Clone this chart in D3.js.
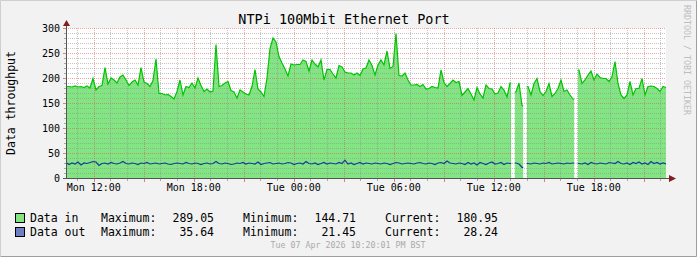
<!DOCTYPE html>
<html>
<head>
<meta charset="utf-8">
<script src="https://cdn.jsdelivr.net/npm/d3@7"></script>
<style>
  body { margin: 0; background: #f2f2f2; }
  svg text { font-family: "DejaVu Sans Mono", monospace; }
</style>
</head>
<body>
<script>
// one reading every 10.8 minutes, Mon 10:20 -> Tue 22:20 (null = no data)
var dataIn = [
  183,183,182,184,182,183,181,184,180,199,
  176,183,185,221,188,200,196,190,202,206,
  196,185,192,196,186,221,192,189,183,195,
  238,169,169,166,167,163,158,173,196,166,
  183,181,190,180,200,185,173,178,172,174,
  267,183,185,190,193,175,172,160,176,172,
  168,166,183,217,178,172,163,200,259,280,
  272,243,230,218,204,228,226,227,227,236,
  233,214,236,228,222,236,196,217,217,208,
  200,225,222,212,210,210,206,210,205,218,
  220,236,225,206,226,236,226,254,219,223,
  289.05,205,204,210,196,186,186,187,183,187,
  178,179,183,181,180,216,191,183,189,196,
  191,193,165,172,179,168,156,181,168,160,
  186,179,178,168,170,183,176,162,190,null,
  172,190,144.71,null,183,166,189,199,173,165,
  173,189,163,169,179,196,173,176,166,158,
  null,216,189,196,206,214,196,208,201,199,
  199,193,203,233,189,166,159,166,193,166,
  179,179,199,166,183,184,183,179,173,183,
  180.95
];

var dataOut = [
  31,27,30,28,32,26,30,29,31,33,
  32,25,29,30,28,31,29,28,30,33,
  29,28,30,29,27,30,29,31,28,29,
  30,28,29,30,28,27,29,30,29,28,
  31,29,28,30,29,27,29,30,28,29,
  33,29,28,30,29,27,28,30,29,31,
  28,30,29,28,32,27,29,30,31,28,
  29,30,28,29,31,30,27,29,30,28,
  33,29,28,30,27,29,31,28,30,29,
  28,31,29,35.64,28,30,27,29,31,28,
  30,29,28,30,29,28,30,29,27,29,
  31,30,28,29,30,29,28,30,31,29,
  28,30,29,27,30,31,29,34,30,29,
  28,30,29,27,31,28,30,26,31,29,
  27,30,32,28,29,31,27,30,29,null,
  30,28,21.45,null,29,28,30,29,28,30,
  29,31,28,29,30,29,28,30,29,30,
  null,29,28,30,27,31,29,28,30,29,
  28,31,30,29,33,29,28,30,27,31,
  29,32,28,30,27,33,29,31,28,30,
  28.24
];

var seriesNames = ["Data in", "Data out"];
var maxima = ["289.05", "35.64"];
var minima = ["144.71", "21.45"];
var currents = ["180.95", "28.24"];
var yTicks = [0, 50, 100, 150, 200, 250, 300];

var startTime = new Date(2026, 3, 6, 10, 20);
var endTime = new Date(2026, 3, 7, 22, 20);
var stepMs = (endTime - startTime) / (dataIn.length - 1);

var svg = d3.select("body").append("svg")
    .attr("width", 697)
    .attr("height", 257);

svg.append("rect")
    .attr("width", 697).attr("height", 257)
    .attr("fill", "#f2f2f2");
// frame shades
svg.append("path").attr("d", "M0.5,256 V0.5 H696").attr("stroke", "#cfcfcf").attr("fill", "none");
svg.append("path").attr("d", "M0.5,256.5 H696.5 V0.5").attr("stroke", "#9e9e9e").attr("fill", "none");

var x = d3.scaleTime().domain([startTime, endTime]).range([66, 666]);
var y = d3.scaleLinear().domain([0, 300]).range([178, 28]);

svg.append("rect")
    .attr("x", x.range()[0]).attr("y", y(300))
    .attr("width", x.range()[1] - x.range()[0])
    .attr("height", y(0) - y(300))
    .attr("fill", "#ffffff");

// build points; each reading holds its value until close to an unknown slot,
// so the missing slots leave narrow white gaps like rrdtool does
var points = [];
dataIn.forEach(function (v, i) {
    var t = +startTime + i * stepMs;
    if (v == null) {
        points.push({ t: new Date(t - stepMs * 0.6), vin: dataIn[i - 1], vout: dataOut[i - 1] });
        points.push({ t: new Date(t), vin: null, vout: null });
        points.push({ t: new Date(t + stepMs * 0.6), vin: dataIn[i + 1], vout: dataOut[i + 1] });
    } else {
        points.push({ t: new Date(t), vin: v, vout: dataOut[i] });
    }
});

var area = d3.area()
    .defined(function (d) { return d.vin != null; })
    .x(function (d) { return x(d.t); })
    .y0(y(0))
    .y1(function (d) { return y(d.vin); });

var lineIn = d3.line()
    .defined(function (d) { return d.vin != null; })
    .x(function (d) { return x(d.t); })
    .y(function (d) { return y(d.vin); });

var lineOut = d3.line()
    .defined(function (d) { return d.vout != null; })
    .x(function (d) { return x(d.t); })
    .y(function (d) { return y(d.vout); });

svg.append("path").datum(points).attr("d", area).attr("fill", "#82e482");

// grid
var hours = d3.timeHour.range(startTime, endTime);
var isMajor = function (h) { return h.getHours() % 3 == 0; };
var minorCol = "rgba(140,140,140,0.5)";
var majorCol = "rgba(222,80,80,0.5)";

var hLines = d3.range(10, 301, 10);
svg.selectAll("line.hgrid").data(hLines).enter().append("line")
    .attr("x1", 66).attr("x2", 666)
    .attr("y1", function (d) { return Math.round(y(d)) + 0.5; })
    .attr("y2", function (d) { return Math.round(y(d)) + 0.5; })
    .attr("stroke", function (d) { return d % 50 == 0 ? majorCol : minorCol; })
    .attr("stroke-dasharray", "1,1");

svg.selectAll("line.vgrid").data(hours).enter().append("line")
    .attr("x1", function (d) { return Math.round(x(d)) + 0.5; })
    .attr("x2", function (d) { return Math.round(x(d)) + 0.5; })
    .attr("y1", y(300)).attr("y2", y(0))
    .attr("stroke", function (d) { return isMajor(d) ? majorCol : minorCol; })
    .attr("stroke-dasharray", "1,1");

// x ticks below the axis
svg.selectAll("line.xtick").data(hours).enter().append("line")
    .attr("x1", function (d) { return Math.round(x(d)) + 0.5; })
    .attr("x2", function (d) { return Math.round(x(d)) + 0.5; })
    .attr("y1", 178).attr("y2", function (d) { return isMajor(d) ? 182 : 181; })
    .attr("stroke", function (d) { return isMajor(d) ? "#e08080" : "#a8a8a8"; });

// y ticks left of axis
svg.selectAll("line.ytick").data(hLines).enter().append("line")
    .attr("x1", function (d) { return d % 50 == 0 ? 63 : 64; }).attr("x2", 66)
    .attr("y1", function (d) { return Math.round(y(d)) + 0.5; })
    .attr("y2", function (d) { return Math.round(y(d)) + 0.5; })
    .attr("stroke", function (d) { return d % 50 == 0 ? "#e08080" : "#a8a8a8"; });

svg.append("path").datum(points).attr("d", lineIn)
    .attr("fill", "none").attr("stroke", "#00c400").attr("stroke-width", 1.2);
svg.append("path").datum(points).attr("d", lineOut)
    .attr("fill", "none").attr("stroke", "#1c3a9e").attr("stroke-width", 1.2);

// axes
svg.append("line").attr("x1", 66.5).attr("x2", 66.5).attr("y1", 179).attr("y2", 25)
    .attr("stroke", "#555");
svg.append("line").attr("x1", 63).attr("x2", 670).attr("y1", 178.5).attr("y2", 178.5)
    .attr("stroke", "#555");
svg.append("path").attr("d", "M66.5,20 L63,26 L70,26 Z").attr("fill", "#801f1f");
svg.append("path").attr("d", "M676,178.5 L669,175 L669,182 Z").attr("fill", "#801f1f");

svg.selectAll("text.ylab").data(yTicks).enter().append("text")
    .attr("x", 60)
    .attr("y", function (d) { return y(d) + 3.5; })
    .attr("text-anchor", "end")
    .attr("font-size", "10px")
    .attr("fill", "#000")
    .text(function (d) { return d; });

var labelHours = hours.filter(function (h) { return h.getHours() % 6 == 0; });
var fmt = d3.timeFormat("%a %H:%M");
svg.selectAll("text.xlab").data(labelHours).enter().append("text")
    .attr("x", function (d) { return x(d); })
    .attr("y", 191)
    .attr("text-anchor", "middle")
    .attr("font-size", "10px")
    .attr("fill", "#000")
    .text(function (d) { return fmt(d); });

// title, axis label, watermark
svg.append("text").attr("x", 344).attr("y", 24).attr("text-anchor", "middle")
    .attr("font-size", "13.5px").attr("fill", "#000")
    .text("NTPi 100Mbit Ethernet Port");
svg.append("text").attr("transform", "translate(15,103) rotate(-90)")
    .attr("text-anchor", "middle").attr("font-size", "11.5px").attr("fill", "#000")
    .text("Data throughput");
svg.append("text").attr("transform", "translate(684,60) rotate(90)")
    .attr("text-anchor", "middle").attr("font-size", "8.3px").attr("fill", "#bdbdbd")
    .text("RRDTOOL / TOBI OETIKER");

// legend
var legendFill = ["#82e482", "#6e7fc2"];
var legend = svg.selectAll("g.legend").data(seriesNames).enter().append("g")
    .attr("transform", function (d, i) { return "translate(0," + (222 + i * 14) + ")"; });
legend.append("rect")
    .attr("x", 15.5).attr("y", -8.5).attr("width", 9).attr("height", 9)
    .attr("fill", function (d, i) { return legendFill[i]; })
    .attr("stroke", "#000");
function legendText(g, xPos, anchor, fn) {
    g.append("text").attr("x", xPos).attr("text-anchor", anchor)
        .attr("font-size", "11.5px").attr("fill", "#000").text(fn);
}
legendText(legend, 30, "start", function (d) { return d; });
legendText(legend, 101, "start", function () { return "Maximum:"; });
legendText(legend, 214, "end", function (d, i) { return maxima[i]; });
legendText(legend, 243, "start", function () { return "Minimum:"; });
legendText(legend, 356, "end", function (d, i) { return minima[i]; });
legendText(legend, 385, "start", function () { return "Current:"; });
legendText(legend, 498, "end", function (d, i) { return currents[i]; });

svg.append("text").attr("x", 348).attr("y", 248).attr("text-anchor", "middle")
    .attr("font-size", "8.3px").attr("fill", "#aaaaaa")
    .text("Tue 07 Apr 2026 10:20:01 PM BST");
</script>
</body>
</html>
